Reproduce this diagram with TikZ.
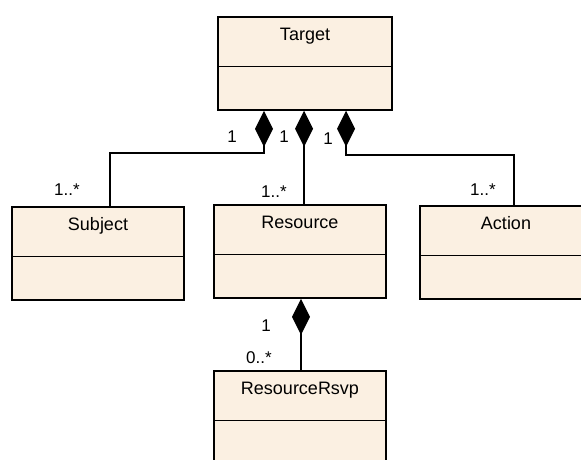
\documentclass[tikz,border=0pt]{standalone}
\usepackage{fontspec}
\setmainfont{Liberation Sans}
\usetikzlibrary{arrows.meta}
\definecolor{clsfill}{RGB}{251,240,226}
\tikzset{
    cls/.style={draw, fill=clsfill, minimum height=93pt, inner sep=0pt},
    ttl/.style={anchor=base, inner sep=0pt, font=\fontsize{18}{20}\selectfont},
    mult/.style={inner sep=0pt, font=\fontsize{17}{19}\selectfont},
    comp/.style={{Diamond[length=36pt, width=18pt]}-}
}
\begin{document}
\begin{tikzpicture}[x=1pt, y=-1pt, line width=1.5pt]
\useasboundingbox (0,0) rectangle (581,459);
\foreach \n/\x/\y/\w/\t in {target/305/63.5/174/Target, subject/98/253.5/172/Subject,
    resource/300/251.5/172/Resource, action/506/252.5/172/Action, rsvp/300/417.5/172/ResourceRsvp}
{
    \node[cls, minimum width=\w pt] (\n) at (\x,\y) {};
    \node[ttl] (\n-name) at ([yshift=-24pt]\n.north) {\t};
    \draw ([yshift=-50pt]\n.north west) -- ([yshift=-50pt]\n.north east);
}

\draw[comp] ([xshift=-41pt]target.south) -- ++(0,42) -| ([xshift=12pt]subject.north);
\draw[comp] ([xshift=-1pt]target.south) -- ([xshift=4pt]resource.north);
\draw[comp] ([xshift=41pt]target.south) -- ++(0,44) -| ([xshift=8pt]action.north);
\draw[comp] ([xshift=1pt]resource.south) -- ([xshift=1pt]rsvp.north);

\node[mult] (m-ts) at (232,137) {1};
\node[mult] (m-tr) at (284,137) {1};
\node[mult] (m-ta) at (328,139) {1};
\node[mult] (m-s) at (67,190) {1..*};
\node[mult] (m-r) at (274,192) {1..*};
\node[mult] (m-a) at (483,190) {1..*};
\node[mult] (m-rr) at (266,326) {1};
\node[mult] (m-rs) at (259,358) {0..*};
\end{tikzpicture}
\end{document}
